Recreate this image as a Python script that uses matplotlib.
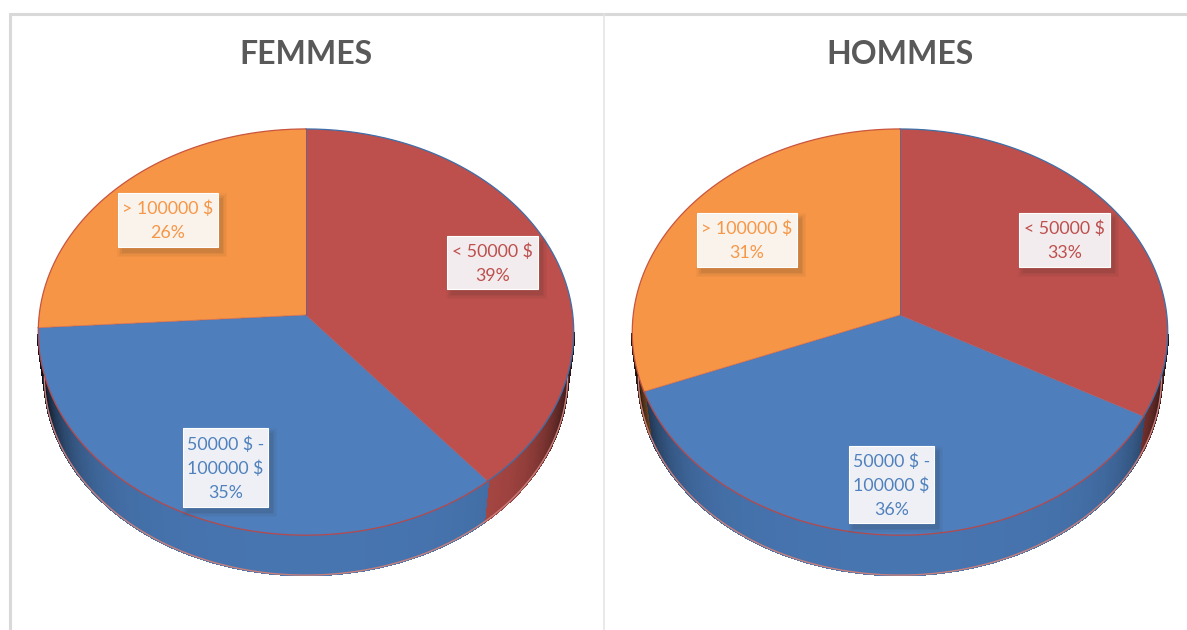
import numpy as np
import matplotlib
matplotlib.use("Agg")
import matplotlib.pyplot as plt
from matplotlib.collections import PolyCollection
from matplotlib.colors import to_rgb
from matplotlib.patches import Polygon, Rectangle

# Income bands and their shares (percent), clockwise from twelve o'clock
bands = ["< 50000 $", "50000 $ -\n100000 $", "> 100000 $"]
femmes = [39, 35, 26]
hommes = [33, 36, 31]
titles = ["FEMMES", "HOMMES"]

top_colors = ["#BD4F4C", "#4E7EBB", "#F59545"]
wall_colors = ["#B04A46", "#4775B0", "#E08A40"]
rim_colors = ["#3F6FA8", "#B5494C", "#C9553F"]
text_colors = ["#BD4F4C", "#4F81BD", "#F79646"]
box_fills = ["#F3ECEE", "#EFF0F6", "#F9F3EC"]

# Perspective of the disc: viewing distance and focal scales in pixels
DIST, FX, FY = 11.9, 3175.0, 2400.0
APEX_Y, WALL_DROP, WALL_SCALE = 315.0, 45.0, 0.977
# The wall is only visible past the widest point of the rim
WALL_LIMIT = -1.0 / DIST

# Pixel boxes (x0, y0, x1, y1) for the data labels of each pie
label_boxes = [
    [(447, 236, 538, 289), (183, 428, 268, 507), (118, 193, 218, 247)],
    [(1019, 213, 1110, 267), (849, 446, 934, 523), (697, 213, 797, 267)],
]
centers_x = [306.0, 900.0]


def project(t, cx, scale=1.0, drop=0.0):
    """Map clockwise angles on the disc to pixel coordinates."""
    depth = DIST + np.cos(t)
    x = cx + scale * FX * np.sin(t) / depth
    y = APEX_Y + drop - scale * FY * np.cos(t) / depth
    return x, y


def shade(rgb, t):
    """Darken the wall towards the left and right ends of the disc."""
    side = np.abs(np.sin(t))
    factor = 1.0 - 0.80 * side ** 8 - 0.10 * side ** 2
    return tuple(c * factor for c in rgb)


def draw_pie(ax, cx, shares, title, boxes):
    edges = np.radians(np.concatenate([[0.0], np.cumsum(shares)]) * 3.6)
    spans = list(zip(edges[:-1], edges[1:]))

    # Side wall built from narrow quads, far ones first, with no seams
    quads, fills = [], []
    for i, (a, b) in enumerate(spans):
        ts = np.linspace(a, b, max(int(np.degrees(b - a)), 2) + 1)
        for t0, t1 in zip(ts[:-1], ts[1:]):
            if np.cos(t0) > WALL_LIMIT or np.cos(t1) > WALL_LIMIT:
                continue
            x0, y0 = project(t0, cx)
            x1, y1 = project(t1, cx)
            x2, y2 = project(t1, cx, WALL_SCALE, WALL_DROP)
            x3, y3 = project(t0, cx, WALL_SCALE, WALL_DROP)
            quads.append([(x0, y0), (x1, y1), (x2, y2), (x3, y3)])
            fills.append(shade(to_rgb(wall_colors[i]), (t0 + t1) / 2))
    ax.add_collection(PolyCollection(quads, facecolors=fills, edgecolors=fills,
                                     linewidths=1.2, antialiaseds=False, zorder=2))

    # Lower rim of the wall
    start = np.arccos(WALL_LIMIT)
    ts = np.linspace(start, 2 * np.pi - start, 300)
    ax.plot(*project(ts, cx, WALL_SCALE, WALL_DROP), color="#C9807C", lw=1.0, zorder=3)

    # Top face of each slice with its coloured rim
    for i, (a, b) in enumerate(spans):
        ts = np.linspace(a, b, 240)
        x, y = project(ts, cx)
        pts = np.column_stack([np.r_[cx, x], np.r_[APEX_Y, y]])
        ax.add_patch(Polygon(pts, closed=True, facecolor=top_colors[i],
                             edgecolor="none", zorder=4))
        ax.plot(x, y, color=rim_colors[i], lw=0.9, zorder=5)
        ax.plot([cx, x[-1]], [APEX_Y, y[-1]], color=rim_colors[(i + 1) % 3],
                lw=0.6, alpha=0.7, zorder=5)

    # Data labels on softly shadowed boxes
    for i, (x0, y0, x1, y1) in enumerate(boxes):
        for grow, alpha in [(5, 0.03), (3.5, 0.04), (2, 0.06), (0.5, 0.08)]:
            ax.add_patch(Rectangle((x0 + 4 - grow, y0 + 5 - grow),
                                   x1 - x0 + 2 * grow, y1 - y0 + 2 * grow,
                                   facecolor="#30302a", edgecolor="none",
                                   alpha=alpha, zorder=6))
        ax.add_patch(Rectangle((x0, y0), x1 - x0, y1 - y0, facecolor=box_fills[i],
                               edgecolor="#FFFFFF", lw=0.8, zorder=7))
        ax.text((x0 + x1) / 2, (y0 + y1) / 2 + 1, f"{bands[i]}\n{shares[i]}%",
                ha="center", va="center", color=text_colors[i], fontsize=12.8,
                family="Lato", linespacing=1.6, zorder=8)

    ax.text(cx, 54, title, ha="center", va="center", color="#595959",
            fontsize=23, fontweight="bold", family="Lato", zorder=8)


fig = plt.figure(figsize=(11.87, 6.30), dpi=100, facecolor="white")
ax = fig.add_axes([0, 0, 1, 1])
ax.set_xlim(0, 1187)
ax.set_ylim(630, 0)
ax.axis("off")

# Chart frame and the divider between the two panels
ax.plot([9.5, 9.5, 1187], [630, 13.5, 13.5], color="#D9D9D9", lw=2.2,
        solid_joinstyle="miter", zorder=1)
ax.plot([604, 604], [14, 630], color="#E3E3E3", lw=1.1, zorder=1)

for cx, shares, title, boxes in zip(centers_x, [femmes, hommes], titles, label_boxes):
    draw_pie(ax, cx, shares, title, boxes)

fig.savefig("out.png", dpi=100, facecolor="white")
